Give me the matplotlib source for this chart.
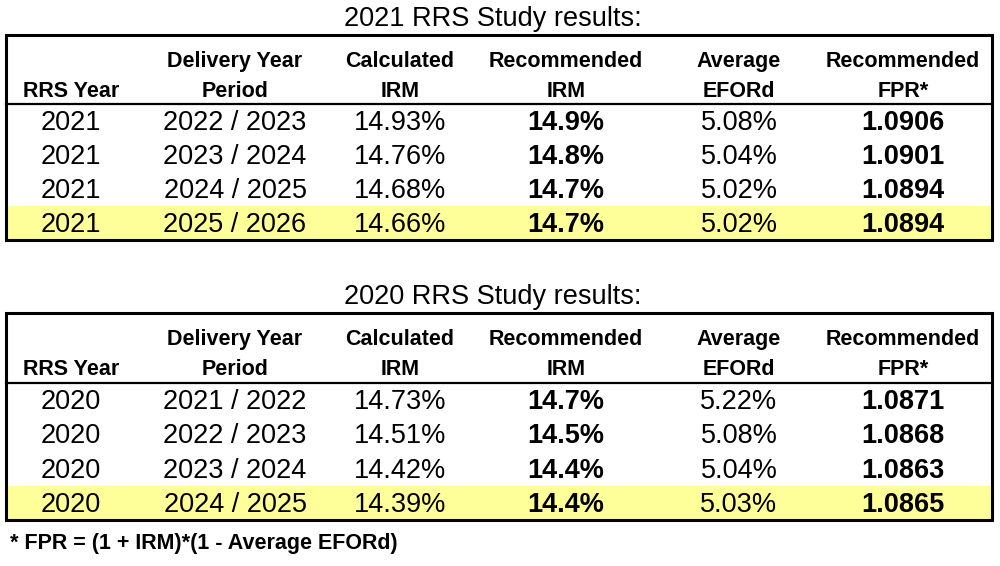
import matplotlib
import matplotlib.pyplot as plt
from matplotlib.patches import Rectangle

matplotlib.rcParams['font.family'] = ['Liberation Sans', 'DejaVu Sans']

# column headers (two lines each)
headers_top = ["", "Delivery Year", "Calculated", "Recommended", "Average", "Recommended"]
headers_bot = ["RRS Year", "Period", "IRM", "IRM", "EFORd", "FPR*"]

# 2021 study
title_2021 = "2021 RRS Study results:"
rrs_2021 = [2021, 2021, 2021, 2021]
period_2021 = ["2022 / 2023", "2023 / 2024", "2024 / 2025", "2025 / 2026"]
calc_irm_2021 = [14.93, 14.76, 14.68, 14.66]
rec_irm_2021 = [14.9, 14.8, 14.7, 14.7]
eford_2021 = [5.08, 5.04, 5.02, 5.02]
fpr_2021 = [1.0906, 1.0901, 1.0894, 1.0894]

# 2020 study
title_2020 = "2020 RRS Study results:"
rrs_2020 = [2020, 2020, 2020, 2020]
period_2020 = ["2021 / 2022", "2022 / 2023", "2023 / 2024", "2024 / 2025"]
calc_irm_2020 = [14.73, 14.51, 14.42, 14.39]
rec_irm_2020 = [14.7, 14.5, 14.4, 14.4]
eford_2020 = [5.22, 5.08, 5.04, 5.03]
fpr_2020 = [1.0871, 1.0868, 1.0863, 1.0865]

footnote = "* FPR = (1 + IRM)*(1 - Average EFORd)"

col_x = [71, 235, 400, 566, 739, 903]
bold_cols = [3, 5]
left, right = 6, 992
yellow = '#ffff99'

fig = plt.figure(figsize=(10, 5.66), dpi=100)
ax = fig.add_axes([0, 0, 1, 1])
ax.set_xlim(0, 1000)
ax.set_ylim(566, 0)
ax.axis('off')


def draw_table(top, head_bot, bottom, title, rrs, period, calc, rec, eford, fpr):
    ax.text(493, top - 9, title, ha='center', va='baseline', fontsize=19.5)
    row_h = (bottom - head_bot) / len(rrs)
    # highlight last row
    ax.add_patch(Rectangle((left, head_bot + row_h * (len(rrs) - 1)), right - left, row_h,
                           facecolor=yellow, edgecolor='none', zorder=0))
    for j, x in enumerate(col_x):
        ax.text(x, top + 32, headers_top[j], ha='center', va='baseline',
                fontsize=15.5, fontweight='bold')
        ax.text(x, top + 62, headers_bot[j], ha='center', va='baseline',
                fontsize=15.5, fontweight='bold')
    for i in range(len(rrs)):
        vals = [str(rrs[i]), period[i], f"{calc[i]:.2f}%", f"{rec[i]:.1f}%",
                f"{eford[i]:.2f}%", f"{fpr[i]:.4f}"]
        y = head_bot + row_h * i + 26
        for j, v in enumerate(vals):
            ax.text(col_x[j], y, v, ha='center', va='baseline', fontsize=19.5,
                    fontweight='bold' if j in bold_cols else 'normal')
    ax.plot([left, right], [head_bot, head_bot], color='black', lw=1.6, zorder=3)
    ax.add_patch(Rectangle((left, top), right - left, bottom - top, facecolor='none',
                           edgecolor='black', lw=2.2, zorder=4))


draw_table(35, 104, 240, title_2021, rrs_2021, period_2021, calc_irm_2021,
           rec_irm_2021, eford_2021, fpr_2021)
draw_table(313, 383, 520, title_2020, rrs_2020, period_2020, calc_irm_2020,
           rec_irm_2020, eford_2020, fpr_2020)

ax.text(10, 549, footnote, ha='left', va='baseline', fontsize=15.5, fontweight='bold')

fig.savefig('out.png', dpi=100)
